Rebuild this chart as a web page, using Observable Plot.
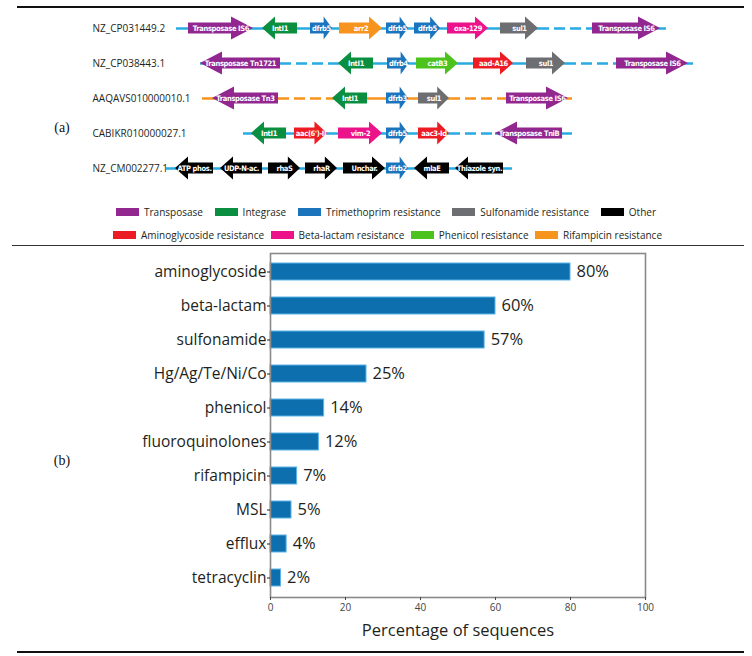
<!DOCTYPE html>
<html><head><meta charset="utf-8">
<script src="https://cdn.jsdelivr.net/npm/d3@7"></script>
<script src="https://cdn.jsdelivr.net/npm/@observablehq/plot@0.6"></script>
<style>
body{margin:0;background:#fff;}
#fig{position:relative;width:752px;height:656px;overflow:hidden;background:#fff;font-family:"Open Sans",sans-serif;color:#231f20;}
.rule{position:absolute;background:#111;}
.plab{position:absolute;font-family:"Liberation Serif","Times New Roman",serif;font-size:14px;color:#111;transform:translate(-50%,-50%);}
#panelA{position:absolute;left:0;top:0;}
#panelB{position:absolute;left:0;top:248px;}
.legrow{position:absolute;display:flex;justify-content:space-between;align-items:center;font-size:10px;color:#231f20;}
.item{display:flex;align-items:center;white-space:nowrap;}
.sw{width:23px;height:8px;margin-right:5px;}
.glabel text{font-family:"DejaVu Sans",sans-serif;font-stretch:condensed;letter-spacing:-0.35px;}
</style></head><body>
<div id="fig">
  <div class="rule" style="left:17px;top:6px;width:727px;height:2px;"></div>
  <div class="rule" style="left:12px;top:245px;width:732px;height:1px;background:#333;"></div>
  <div class="rule" style="left:17px;top:651px;width:727px;height:2px;"></div>
  <div id="panelA"></div>
  <div class="legrow" id="leg1" style="left:116px;top:205px;width:540px;"></div>
  <div class="legrow" id="leg2" style="left:113px;top:228px;width:549px;"></div>
  <div id="panelB"></div>
  <div class="plab" style="left:62px;top:128px;">(a)</div>
  <div class="plab" style="left:62px;top:461px;">(b)</div>
</div>
<script>
// ---------- Panel (a) data ----------
const sequences = ["NZ_CP031449.2","NZ_CP038443.1","AAQAVS010000010.1","CABIKR010000027.1","NZ_CM002277.1"];
const geneTypes = ["Transposase","Integrase","Trimethoprim resistance","Sulfonamide resistance","Other",
                   "Aminoglycoside resistance","Beta-lactam resistance","Phenicol resistance","Rifampicin resistance"];
// [sequence index, gene, type, start, end, strand]
const genes = [
  [0,"Transposase IS6","Transposase",188,253,1],
  [0,"IntI1","Integrase",262,297,-1],
  [0,"dfrb5","Trimethoprim resistance",310,332,1],
  [0,"arr2","Rifampicin resistance",339,382,1],
  [0,"dfrb5","Trimethoprim resistance",386,408,1],
  [0,"dfrb5","Trimethoprim resistance",414,440,1],
  [0,"oxa-129","Beta-lactam resistance",447,488,1],
  [0,"sul1","Sulfonamide resistance",500,538,1],
  [0,"Transposase IS6","Transposase",592,660,1],
  [1,"Transposase Tn1721","Transposase",200,280,-1],
  [1,"IntI1","Integrase",338,373,-1],
  [1,"dfrb4","Trimethoprim resistance",387,409,1],
  [1,"catB3","Phenicol resistance",416,458,1],
  [1,"aad-A16","Aminoglycoside resistance",473,513,1],
  [1,"sul1","Sulfonamide resistance",526,565,1],
  [1,"Transposase IS6","Transposase",616,688,1],
  [2,"Transposase Tn3","Transposase",212,278,-1],
  [2,"IntI1","Integrase",332,367,-1],
  [2,"dfrb3","Trimethoprim resistance",386,408,1],
  [2,"sul1","Sulfonamide resistance",418,449,1],
  [2,"Transposase IS6","Transposase",506,568,1],
  [3,"IntI1","Integrase",251,286,-1],
  [3,"aac(6')-II","Aminoglycoside resistance",294,327,1],
  [3,"vim-2","Beta-lactam resistance",338,382,1],
  [3,"dfrb5","Trimethoprim resistance",386,408,1],
  [3,"aac3-Id","Aminoglycoside resistance",418,449,1],
  [3,"Transposase TniB","Transposase",495,562,-1],
  [4,"ATP phos.","Other",175,213,-1],
  [4,"UDP-N-ac.","Other",220,262,-1],
  [4,"rhaS","Other",268,300,1],
  [4,"rhaR","Other",305,337,1],
  [4,"Unchar.","Other",343,385,1],
  [4,"dfrb2","Trimethoprim resistance",386,408,1],
  [4,"mlaE","Other",414,449,-1],
  [4,"Thiazole syn.","Other",455,503,-1]
];
// [sequence index, from, to, dashed]
const backbone = [
  [0,176,538,false],[0,538,592,true],[0,592,666,false],
  [1,200,280,false],[1,280,338,true],[1,338,565,false],[1,565,616,true],[1,616,693,false],
  [2,202,278,false],[2,278,332,true],[2,332,449,false],[2,449,506,true],[2,506,572,false],
  [3,243,449,false],[3,449,495,true],[3,495,572,false],
  [4,166,512,false]
];

// ---------- Panel (b) data ----------
const categories = ["aminoglycoside","beta-lactam","sulfonamide","Hg/Ag/Te/Ni/Co","phenicol",
                    "fluoroquinolones","rifampicin","MSL","efflux","tetracyclin"];
const percentages = [80, 60, 57.1, 25.6, 14.3, 12.9, 7.1, 5.6, 4.3, 2.8];
const percentLabels = ["80%","60%","57%","25%","14%","12%","7%","5%","4%","2%"];
const xTicks = [0, 20, 40, 60, 80, 100];
const xTitle = "Percentage of sequences";

// ---------- styles ----------
const typeColor = {
  "Transposase":"#92278f","Integrase":"#0a8f41","Trimethoprim resistance":"#1c75bc",
  "Sulfonamide resistance":"#6d6e71","Other":"#000000","Aminoglycoside resistance":"#ed1c24",
  "Beta-lactam resistance":"#ec128a","Phenicol resistance":"#4cc21d","Rifampicin resistance":"#f7941d"
};
const lineColor = ["#29abe2","#29abe2","#f7941d","#29abe2","#29abe2"];
const ROW = 35, BODY = 5.5 / ROW, HEAD = 11.5 / ROW;

// arrow outlines
const pts = [];
genes.forEach((g, id) => {
  const [r, name, type, s, e, dir] = g;
  const h = type === "Transposase" ? 22 : Math.min(13, 0.38 * (e - s));
  const c = typeColor[type];
  const P = (x, y1, y2) => pts.push({id, x, y1, y2, c});
  if (dir > 0) { P(s, r - BODY, r + BODY); P(e - h, r - BODY, r + BODY); P(e - h, r - HEAD, r + HEAD); P(e, r, r); }
  else { P(s, r, r); P(s + h, r - HEAD, r + HEAD); P(s + h, r - BODY, r + BODY); P(e, r - BODY, r + BODY); }
});

const H_A = 200;
const plotA = Plot.plot({
  width: 752, height: H_A, margin: 0,
  x: {domain: [0, 752], axis: null},
  y: {domain: [-28 / ROW, (H_A - 28) / ROW], range: [0, H_A], axis: null},
  color: {type: "identity"},
  style: {fontFamily: "'Open Sans', sans-serif", background: "transparent"},
  marks: [
    Plot.ruleY(backbone.filter(d => !d[3]), {y: d => d[0], x1: d => d[1], x2: d => d[2], stroke: d => lineColor[d[0]], strokeWidth: 2.5}),
    Plot.ruleY(backbone.filter(d => d[3]), {y: d => d[0], x1: d => d[1], x2: d => d[2], stroke: d => lineColor[d[0]], strokeWidth: 2.5, strokeDasharray: "11,5"}),
    Plot.areaY(pts, {x: "x", y1: "y1", y2: "y2", z: "id", fill: "c"}),
    Plot.text(genes, {x: d => (d[3] + d[4]) / 2, y: d => d[0], text: d => d[1], fill: "white", fontWeight: "bold", fontSize: 7.5,
      className: "glabel"}),
    Plot.text(sequences, {y: (d, i) => i, text: d => d, frameAnchor: "left", dx: 92, textAnchor: "start", fontSize: 10, fill: "#231f20"})
  ]
});
document.getElementById("panelA").appendChild(plotA);

// legend
const legRows = [geneTypes.slice(0, 5), geneTypes.slice(5)];
["leg1", "leg2"].forEach((id, k) => {
  const el = document.getElementById(id);
  legRows[k].forEach(t => {
    const it = document.createElement("div"); it.className = "item";
    const sw = document.createElement("div"); sw.className = "sw"; sw.style.background = typeColor[t];
    const tx = document.createElement("span"); tx.textContent = t;
    it.appendChild(sw); it.appendChild(tx); el.appendChild(it);
  });
});

// panel (b)
const table = categories.map((c, i) => ({cat: c, value: percentages[i], label: percentLabels[i]}));
const plotB = Plot.plot({
  width: 752, height: 404,
  marginTop: 5, marginBottom: 55, marginLeft: 270, marginRight: 107,
  x: {domain: [0, 100]},
  y: {domain: categories, paddingInner: 0.49, paddingOuter: 0.245},
  style: {fontFamily: "'Open Sans', sans-serif", color: "#231f20", background: "transparent"},
  marks: [
    Plot.barX(table, {x: "value", y: "cat", fill: "#0d6fae", stroke: "#5db3e6", strokeWidth: 1}),
    Plot.text(table, {x: "value", y: "cat", text: "label", dx: 6, textAnchor: "start", fontSize: 16.5, fill: "#231f20"}),
    Plot.frame({stroke: "#8a8a8a", strokeWidth: 1.6}),
    Plot.axisX({ticks: xTicks, tickSize: 3, tickPadding: 3, fontSize: 10, label: null, color: "#444"}),
    Plot.axisY({tickSize: 3, tickPadding: 1, fontSize: 15.5, label: null, color: "#231f20"}),
    Plot.text([xTitle], {text: d => d, frameAnchor: "bottom", lineAnchor: "middle", dy: 33, fontSize: 16.5, fill: "#231f20"})
  ]
});
document.getElementById("panelB").appendChild(plotB);
</script>
</body></html>
